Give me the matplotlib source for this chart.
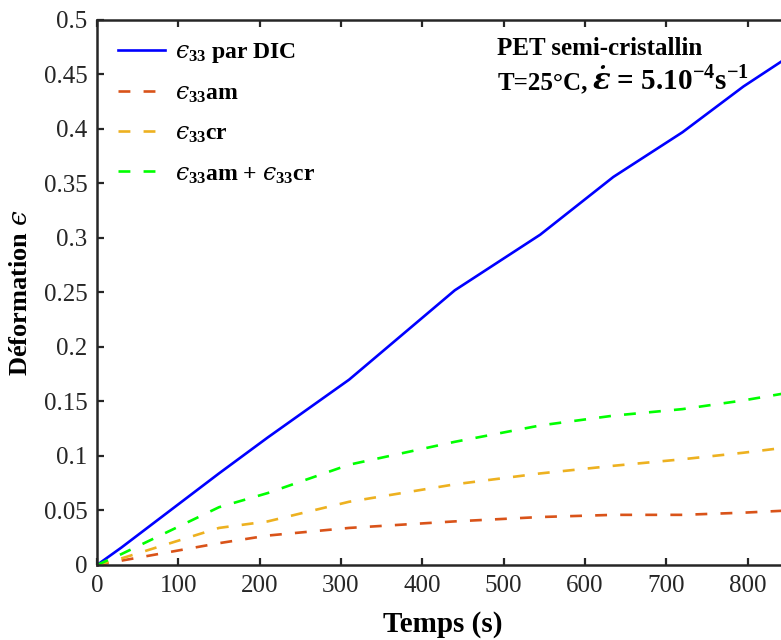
import matplotlib
matplotlib.use('Agg')
import matplotlib.pyplot as plt

plt.rcParams['font.family'] = ['Liberation Serif', 'DejaVu Serif']
plt.rcParams['mathtext.fontset'] = 'custom'
plt.rcParams['mathtext.rm'] = 'Liberation Serif:bold'
plt.rcParams['mathtext.bf'] = 'Liberation Serif:bold'
plt.rcParams['mathtext.it'] = 'DejaVu Serif:italic'
plt.rcParams['mathtext.bfit'] = 'DejaVu Serif:italic:bold'
plt.rcParams['mathtext.fallback'] = 'stix'

# temps (s)
temps = [0, 30, 150, 210, 310, 440, 545, 635, 720, 795, 850]
# deformations
eps_dic = [0, 0.016, 0.084, 0.117, 0.170, 0.252, 0.303, 0.356, 0.397, 0.439, 0.466]
eps_am = [0, 0.004, 0.020, 0.027, 0.034, 0.040, 0.044, 0.046, 0.046, 0.048, 0.050]
eps_cr = [0, 0.006, 0.034, 0.040, 0.058, 0.074, 0.084, 0.091, 0.097, 0.103, 0.108]
eps_sum = [0, 0.010, 0.053, 0.066, 0.092, 0.113, 0.128, 0.137, 0.143, 0.151, 0.158]

labels = [r'$ϵ_{33}$ par DIC', r'$ϵ_{33}$am',
          r'$ϵ_{33}$cr', r'$ϵ_{33}$am + $ϵ_{33}$cr']
couleurs = ['#0000FF', '#D95319', '#EDB120', '#00FF00']

xticks = [0, 100, 200, 300, 400, 500, 600, 700, 800]
yticks = [0, 0.05, 0.1, 0.15, 0.2, 0.25, 0.3, 0.35, 0.4, 0.45, 0.5]
yticklabels = ['0', '0.05', '0.1', '0.15', '0.2', '0.25', '0.3', '0.35', '0.4', '0.45', '0.5']

fig = plt.figure(figsize=(7.81, 6.4), dpi=100)
ax = fig.add_axes([0.1242, 0.1172, 0.885, 0.8516])

dash = (0, (4.5, 5))
ax.plot(temps, eps_dic, color=couleurs[0], lw=1.9, label=labels[0])
ax.plot(temps, eps_am, color=couleurs[1], lw=1.9, ls=dash, label=labels[1])
ax.plot(temps, eps_cr, color=couleurs[2], lw=1.9, ls=dash, label=labels[2])
ax.plot(temps, eps_sum, color=couleurs[3], lw=1.9, ls=dash, label=labels[3])

ax.set_xlim(0, 850)
ax.set_ylim(0, 0.5)
ax.set_xticks(xticks)
ax.set_yticks(yticks)
ax.set_yticklabels(yticklabels)
ax.tick_params(direction='in', length=5, width=1.6, top=True, right=True,
               labelsize=18, colors='#262626', pad=7)
for s in ax.spines.values():
    s.set_linewidth(1.8)
    s.set_color('#262626')

ax.set_xlabel('Temps (s)', fontsize=21, fontweight='bold', labelpad=10)
ax.set_ylabel(r'Déformation $ϵ$', fontsize=19, fontweight='bold', labelpad=8)

ax.text(0.579, 0.936, 'PET semi-cristallin', transform=ax.transAxes,
        fontsize=18, fontweight='bold', va='baseline')
ax.text(0.579, 0.872, 'T=25°C,', transform=ax.transAxes,
        fontsize=18, fontweight='bold', va='baseline')
ax.text(0.716, 0.872, r'$\mathbfit{\dot{\varepsilon}}$ = 5.10$^{-4}$s$^{-1}$',
        transform=ax.transAxes, fontsize=21, fontweight='bold', va='baseline')

leg = ax.legend(loc='upper left', frameon=False, handlelength=2.0,
                handletextpad=0.4, labelspacing=0.75, borderaxespad=0.5,
                borderpad=0.4, prop={'weight': 'bold', 'size': 17})

fig.savefig('out.png', dpi=100)
